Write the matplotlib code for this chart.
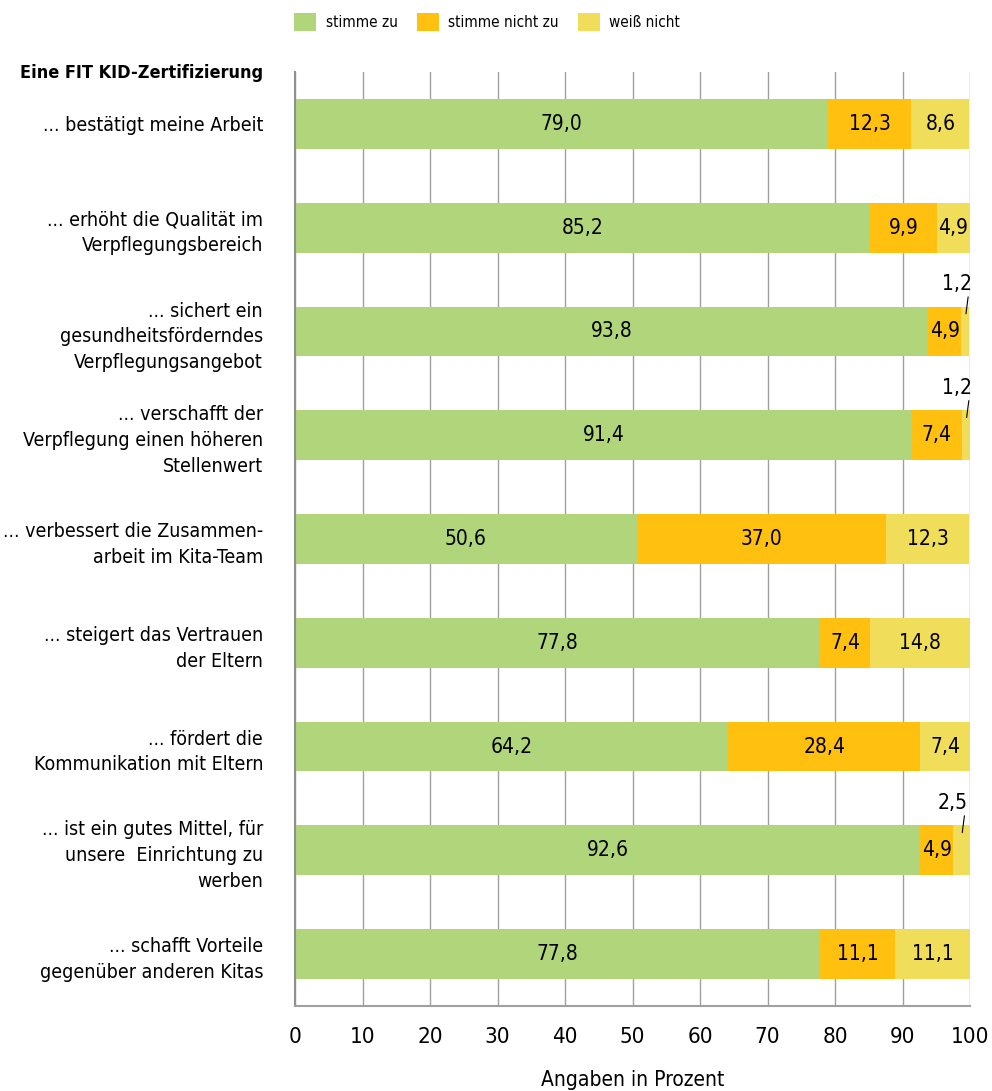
import numpy as np
import matplotlib
matplotlib.use("Agg")
import matplotlib.pyplot as plt

plt.rcParams['font.family'] = ['DejaVu Sans']
plt.rcParams['font.stretch'] = 'condensed'

categories = [
    "... bestätigt meine Arbeit",
    "... erhöht die Qualität im\nVerpflegungsbereich",
    "... sichert ein\ngesundheitsförderndes\nVerpflegungsangebot",
    "... verschafft der\nVerpflegung einen höheren\nStellenwert",
    "... verbessert die Zusammen-\narbeit im Kita-Team",
    "... steigert das Vertrauen\nder Eltern",
    "... fördert die\nKommunikation mit Eltern",
    "... ist ein gutes Mittel, für\nunsere  Einrichtung zu\nwerben",
    "... schafft Vorteile\ngegenüber anderen Kitas",
]
zustimmung = [79.0, 85.2, 93.8, 91.4, 50.6, 77.8, 64.2, 92.6, 77.8]
ablehnung = [12.3, 9.9, 4.9, 7.4, 37.0, 7.4, 28.4, 4.9, 11.1]
weiss_nicht = [8.6, 4.9, 1.2, 1.2, 12.3, 14.8, 7.4, 2.5, 11.1]
series_names = ["stimme zu", "stimme nicht zu", "weiß nicht"]
colors = ["#B0D57A", "#FFC010", "#F0DE5A"]
x_ticks = [0, 10, 20, 30, 40, 50, 60, 70, 80, 90, 100]

fig = plt.figure(figsize=(9.92, 10.91), dpi=100)
ax = fig.add_axes([295 / 992, 1 - 1006 / 1091, 675 / 992, 934 / 1091])

y = np.arange(len(categories))
series = [zustimmung, ablehnung, weiss_nicht]
left = np.zeros(len(categories))
for vals, name, col in zip(series, series_names, colors):
    vals = np.array(vals)
    ax.barh(y, vals, left=left, height=0.48, color=col, label=name, zorder=2)
    for i, v in enumerate(vals):
        txt = f"{v:.1f}".replace(".", ",")
        if v >= 4:
            ax.text(left[i] + v / 2, y[i], txt, ha='center', va='center',
                    fontsize=15, zorder=3)
        else:
            # small values: label above the bar with a leader line
            xc = left[i] + v / 2
            ax.annotate(txt, xy=(xc + 0.1, y[i] - 0.17), xytext=(xc - 1.3, y[i] - 0.36),
                        ha='center', va='bottom', fontsize=15,
                        arrowprops=dict(arrowstyle='-', color='black', lw=0.8,
                                        shrinkA=0, shrinkB=0, relpos=(0.9, 0)),
                        annotation_clip=False, zorder=3)
    left += vals

ax.set_xlim(0, 100)
ax.set_ylim(8.5, -0.5)
ax.set_xticks(x_ticks)
ax.set_xticklabels([str(t) for t in x_ticks], fontsize=16)
ax.tick_params(axis='x', length=0, pad=15)
ax.set_yticks(y)
ax.set_yticklabels(categories, fontsize=14, ha='right', linespacing=1.45)
ax.tick_params(axis='y', length=0, pad=23)
ax.xaxis.grid(True, color='#A0A0A0', lw=1, zorder=0)
ax.set_axisbelow(True)
for s in ['top', 'right']:
    ax.spines[s].set_visible(False)
ax.spines['left'].set_color('#909090')
ax.spines['bottom'].set_color('#A0A0A0')
ax.spines['left'].set_linewidth(1.5)
ax.spines['bottom'].set_linewidth(1.5)

ax.set_xlabel("Angaben in Prozent", fontsize=15, labelpad=17)

fig.text(20 / 992, 1 - 73 / 1091, "Eine FIT KID-Zertifizierung", fontsize=13,
         fontweight='bold', ha='left', va='center')

fig.legend(loc='center', bbox_to_anchor=(487 / 992, 1 - 22 / 1091), ncol=3,
           frameon=False, fontsize=11, handlelength=1.45, handleheight=1.4,
           columnspacing=1.25, handletextpad=0.6)

fig.savefig("out.png", dpi=100)
